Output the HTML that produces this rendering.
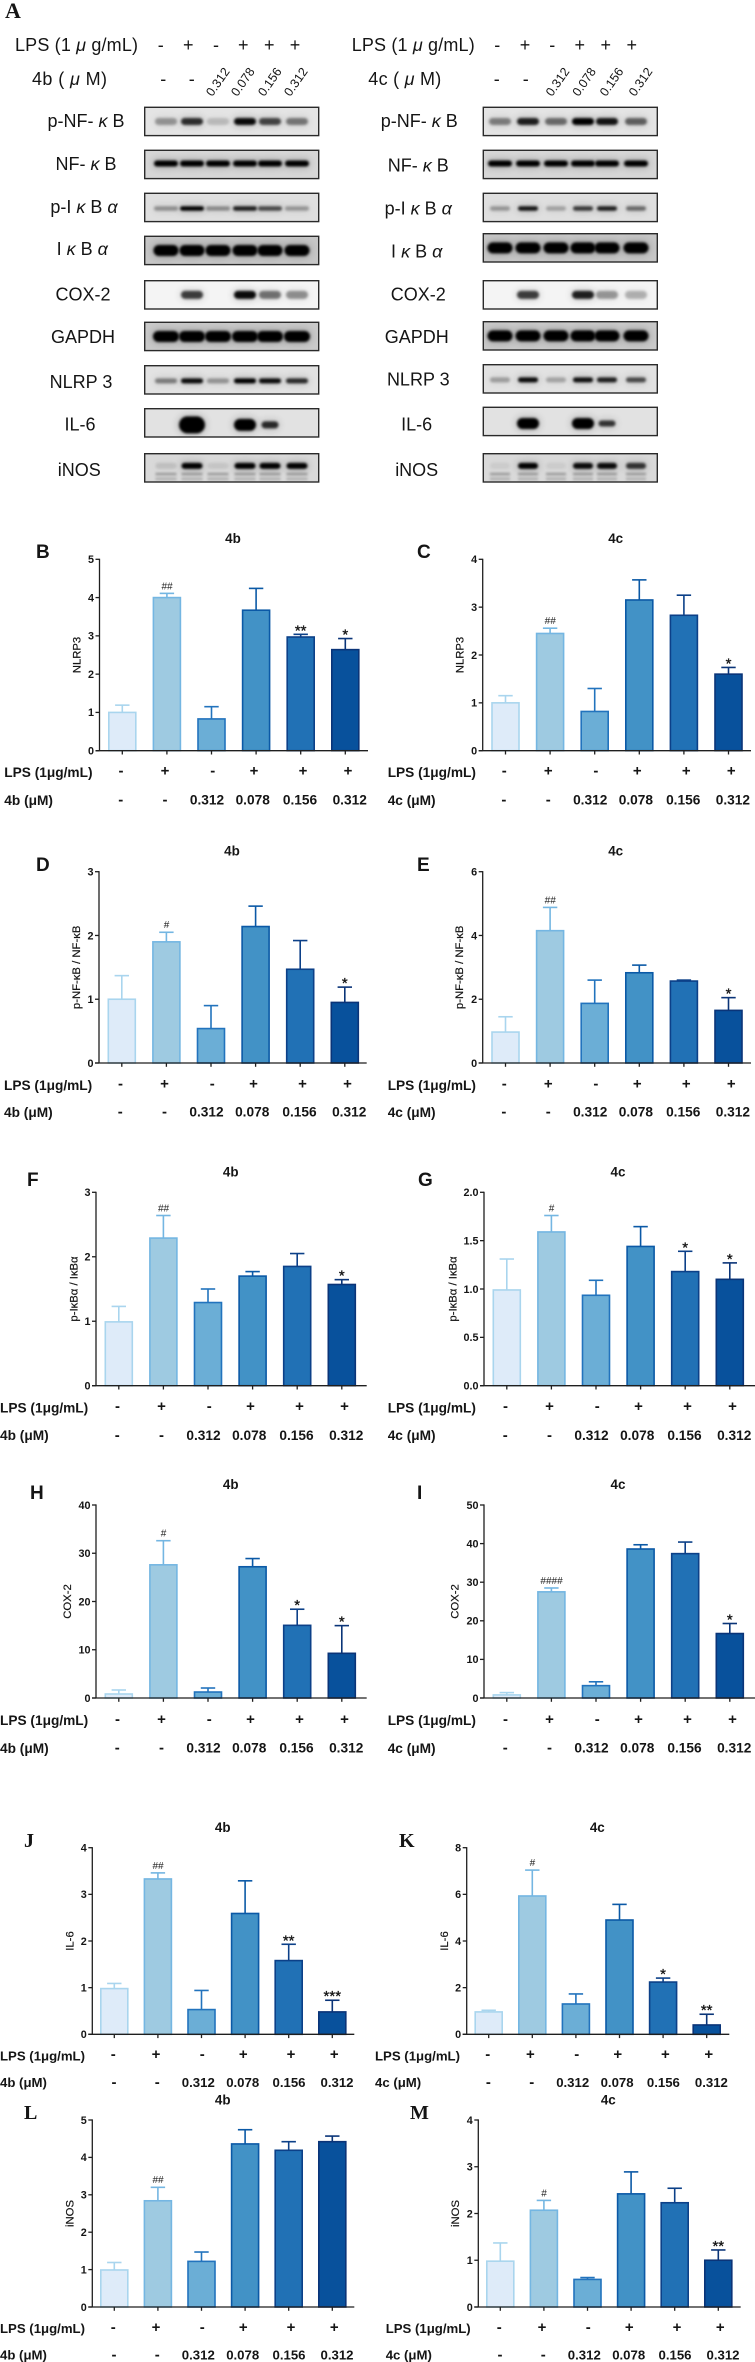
<!DOCTYPE html>
<html lang="en">
<head>
<meta charset="utf-8">
<title>Western blots and quantification of 4b and 4c</title>
<style>
html,body{margin:0;padding:0;background:#fff;width:755px;height:2362px;overflow:hidden}
svg{display:block}
text{font-family:"Liberation Sans",sans-serif;fill:#151515}
.wb{font-size:18px}
.gk{font-style:italic}
.dose{font-size:12.5px;text-anchor:middle}
.mark{font-size:18px;text-anchor:middle}
#charts,#blots{filter:blur(.3px)}
</style>
</head>
<body>
<svg id="fig" xmlns="http://www.w3.org/2000/svg" width="755" height="2362" viewBox="0 0 755 2362">
<defs>
<filter id="bandBlur" x="-30%" y="-80%" width="160%" height="260%"><feGaussianBlur stdDeviation="1.3"/></filter>
<filter id="haloBlur" x="-50%" y="-200%" width="200%" height="500%"><feGaussianBlur stdDeviation="4"/></filter>
</defs>
<rect x="0" y="0" width="755" height="2362" fill="#fff"/>
<g id="blotSection">
<text x="5" y="18" style="font-family:'Liberation Serif',serif;font-weight:bold;font-size:22px">A</text>

<text class="wb" x="15" y="51" textLength="123">LPS (1 <tspan class="gk">μ</tspan> g/mL)</text>
<text class="wb" x="32" y="85" textLength="75">4b ( <tspan class="gk">μ</tspan> M)</text>
<text class="mark" x="160.7" y="51">-</text>
<text class="mark" x="188.3" y="51">+</text>
<text class="mark" x="216" y="51">-</text>
<text class="mark" x="243.3" y="51">+</text>
<text class="mark" x="269.3" y="51">+</text>
<text class="mark" x="295" y="51">+</text>
<text class="mark" x="163.3" y="85">-</text>
<text class="mark" x="191.7" y="85">-</text>
<text class="dose" transform="translate(218 82) rotate(-55)" y="4">0.312</text>
<text class="dose" transform="translate(243 82) rotate(-55)" y="4">0.078</text>
<text class="dose" transform="translate(270 82) rotate(-55)" y="4">0.156</text>
<text class="dose" transform="translate(296 82) rotate(-55)" y="4">0.312</text>

<text class="wb" x="351.7" y="51" textLength="123">LPS (1 <tspan class="gk">μ</tspan> g/mL)</text>
<text class="wb" x="368.3" y="85" textLength="73">4c ( <tspan class="gk">μ</tspan> M)</text>
<text class="mark" x="497.3" y="51">-</text>
<text class="mark" x="525" y="51">+</text>
<text class="mark" x="552.3" y="51">-</text>
<text class="mark" x="579.7" y="51">+</text>
<text class="mark" x="605.7" y="51">+</text>
<text class="mark" x="631.7" y="51">+</text>
<text class="mark" x="496.7" y="85">-</text>
<text class="mark" x="525.7" y="85">-</text>
<text class="dose" transform="translate(557.7 82) rotate(-55)" y="4">0.312</text>
<text class="dose" transform="translate(584.3 82) rotate(-55)" y="4">0.078</text>
<text class="dose" transform="translate(611.7 82) rotate(-55)" y="4">0.156</text>
<text class="dose" transform="translate(640.7 82) rotate(-55)" y="4">0.312</text>

<g text-anchor="middle" class="wb">
<text class="wb" x="86" y="127">p-NF- <tspan class="gk">κ</tspan> B</text>
<text class="wb" x="86" y="170">NF- <tspan class="gk">κ</tspan> B</text>
<text class="wb" x="84" y="213">p-I <tspan class="gk">κ</tspan> B <tspan class="gk">α</tspan></text>
<text class="wb" x="82.3" y="255">I <tspan class="gk">κ</tspan> B <tspan class="gk">α</tspan></text>
<text class="wb" x="83" y="300.5">COX-2</text>
<text class="wb" x="83" y="343">GAPDH</text>
<text class="wb" x="81" y="388">NLRP 3</text>
<text class="wb" x="80" y="430.5">IL-6</text>
<text class="wb" x="79.3" y="476">iNOS</text>
<text class="wb" x="419.3" y="127">p-NF- <tspan class="gk">κ</tspan> B</text>
<text class="wb" x="418.3" y="171.5">NF- <tspan class="gk">κ</tspan> B</text>
<text class="wb" x="418.3" y="214.5">p-I <tspan class="gk">κ</tspan> B <tspan class="gk">α</tspan></text>
<text class="wb" x="416.7" y="257.5">I <tspan class="gk">κ</tspan> B <tspan class="gk">α</tspan></text>
<text class="wb" x="418.3" y="300.5">COX-2</text>
<text class="wb" x="416.7" y="343">GAPDH</text>
<text class="wb" x="418.3" y="385.5">NLRP 3</text>
<text class="wb" x="416.7" y="430.5">IL-6</text>
<text class="wb" x="416.7" y="476">iNOS</text>
</g>
<g id="blots"></g>
</g>
<g id="charts"></g>
</svg>
<script>
// ---- Shared chart categories ----
const categories = ['LPS-', 'LPS+', 'dose 0.312 only', 'LPS + 0.078', 'LPS + 0.156', 'LPS + 0.312'];
const lpsLabels = ['-', '+', '-', '+', '+', '+'];
const doseLabels = ['-', '-', '0.312', '0.078', '0.156', '0.312'];

// ---- Series values ----
const valuesB = [1.0, 4.0, 0.83, 3.67, 2.97, 2.64];
const errorsB = [1.19, 4.11, 1.15, 4.24, 3.04, 2.93];
const notesB = ['', '##', '', '', '**', '*'];
const ticksB = ['0', '1', '2', '3', '4', '5'];

const valuesC = [1.0, 2.45, 0.82, 3.15, 2.83, 1.6];
const errorsC = [1.15, 2.56, 1.3, 3.57, 3.25, 1.74];
const notesC = ['', '##', '', '', '', '*'];
const ticksC = ['0', '1', '2', '3', '4'];

const valuesD = [1.0, 1.9, 0.54, 2.14, 1.47, 0.95];
const errorsD = [1.37, 2.05, 0.9, 2.46, 1.92, 1.19];
const notesD = ['', '#', '', '', '', '*'];
const ticksD = ['0', '1', '2', '3'];

const valuesE = [0.97, 4.15, 1.87, 2.83, 2.57, 1.65];
const errorsE = [1.45, 4.88, 2.6, 3.07, 2.6, 2.05];
const notesE = ['', '##', '', '', '', '*'];
const ticksE = ['0', '2', '4', '6'];

const valuesF = [0.99, 2.29, 1.29, 1.7, 1.85, 1.57];
const errorsF = [1.23, 2.64, 1.5, 1.77, 2.05, 1.645];
const notesF = ['', '##', '', '', '', '*'];
const ticksF = ['0', '1', '2', '3'];

const valuesG = [0.99, 1.59, 0.935, 1.44, 1.18, 1.1];
const errorsG = [1.31, 1.76, 1.09, 1.645, 1.39, 1.27];
const notesG = ['', '#', '', '', '*', '*'];
const ticksG = ['0.0', '0.5', '1.0', '1.5', '2.0'];

const valuesH = [0.83, 27.6, 1.24, 27.2, 15.06, 9.26];
const errorsH = [1.66, 32.6, 2.07, 28.9, 18.4, 15.0];
const notesH = ['', '#', '', '', '*', '*'];
const ticksH = ['0', '10', '20', '30', '40'];

const valuesI = [0.8, 27.5, 3.2, 38.6, 37.4, 16.7];
const errorsI = [1.4, 28.5, 4.2, 39.7, 40.4, 19.3];
const notesI = ['', '####', '', '', '', '*'];
const ticksI = ['0', '10', '20', '30', '40', '50'];

const valuesJ = [0.98, 3.33, 0.53, 2.59, 1.58, 0.48];
const errorsJ = [1.09, 3.46, 0.94, 3.29, 1.93, 0.73];
const notesJ = ['', '##', '', '', '**', '***'];
const ticksJ = ['0', '1', '2', '3', '4'];

const valuesK = [0.96, 5.93, 1.3, 4.9, 2.24, 0.4];
const errorsK = [1.03, 7.04, 1.73, 5.57, 2.41, 0.86];
const notesK = ['', '#', '', '', '*', '**'];
const ticksK = ['0', '2', '4', '6', '8'];

const valuesL = [0.99, 2.84, 1.22, 4.36, 4.19, 4.42];
const errorsL = [1.19, 3.2, 1.47, 4.74, 4.42, 4.57];
const notesL = ['', '##', '', '', '', ''];
const ticksL = ['0', '1', '2', '3', '4', '5'];

const valuesM = [0.98, 2.07, 0.59, 2.42, 2.23, 1.0];
const errorsM = [1.37, 2.28, 0.63, 2.89, 2.54, 1.22];
const notesM = ['', '#', '', '', '', '**'];
const ticksM = ['0', '1', '2', '3', '4'];

// ---- Blot band densities (0 = no band, 1 = saturated) ----
const densityLeft = [
  [0.32, 0.78, 0.16, 0.95, 0.68, 0.45],
  [1, 1, 1, 1, 1, 1],
  [0.33, 1, 0.35, 0.85, 0.65, 0.3],
  [1, 1, 1, 1, 1, 1],
  [0, 0.72, 0, 0.95, 0.5, 0.38],
  [1, 1, 1, 1, 1, 1],
  [0.42, 0.95, 0.32, 1, 0.95, 0.8],
  [0, 1, 0, 1, 0.8, 0],
  [0.1, 1, 0.08, 1, 1, 1]
];
const densityRight = [
  [0.42, 0.85, 0.5, 1, 0.9, 0.55],
  [1, 1, 1, 1, 1, 1],
  [0.3, 0.9, 0.25, 0.72, 0.85, 0.5],
  [1, 1, 1, 1, 1, 1],
  [0, 0.72, 0, 0.85, 0.35, 0.25],
  [1, 1, 1, 1, 1, 1],
  [0.28, 0.95, 0.25, 0.92, 0.85, 0.65],
  [0, 1, 0, 1, 0.75, 0],
  [0.05, 1, 0.05, 0.95, 0.95, 0.75]
];

// ---- Layout ----
const blotRowNames = ['p-nfkb', 'nfkb', 'p-ikba', 'ikba', 'cox2', 'gapdh', 'nlrp3', 'il6', 'inos'];
const blotBackgrounds = ['#e4e4e4', '#d6d6d6', '#dfdfdf', '#c6c6c6', '#f4f4f4', '#c9c9c9', '#e2e2e2', '#e2e2e2', '#d9d9d9'];
const bandHeights = [7, 6, 4.5, 11, 8, 11, 5, 11, 6];
const bandOffsets = [0, -1, 1, 0, 0, 0, 1, 2, -2];
const bandWidthsLeft = [22, 24, 24, 25, 22, 26, 22, 22, 21];
const bandWidthsRight = [22, 24, 20, 25, 22, 25, 20, 22, 20];
const il6WidthLeft = [0, 26, 0, 22, 17, 0];
const il6HeightLeft = [0, 17, 0, 12, 7, 0];
const il6WidthRight = [0, 22, 0, 22, 17, 0];
const il6HeightRight = [0, 11, 0, 11, 6, 0];
const blotTopsLeft = [107.3, 150.3, 193.3, 236.3, 280.7, 322.3, 365.7, 408.7, 453.7];
const blotTopsRight = [107.3, 150.3, 193.3, 233.7, 280.7, 321.7, 364.7, 407.3, 453.7];
const lanesLeft = [166, 192, 218, 245, 270, 297];
const lanesRight = [500, 528, 556, 583, 607, 636];

const fillColors = ['#deebf9', '#9ecae1', '#6baed6', '#4292c6', '#2171b5', '#08519c'];
const strokeColors = ['#a9d5ee', '#74b6e2', '#2273bd', '#0b59a6', '#0c4088', '#0a3478'];

const lpsOffsets = [21.5, 65.5, 113.2, 154.5, 203.5, 248.5];
const doseOffsets = [21.2, 65.5, 107.5, 153.2, 200.5, 250.2];
const lpsOffsetsNarrow = [21, 63.7, 110, 151, 198.7, 242];
const doseOffsetsNarrow = [21.7, 65, 106, 150.4, 196.7, 244.7];

const panels = [
  {id:'b', letter:'B', lx:36, ly:558, serif:false, title:'4b', tx:233, ty:543, ax:99.5, top:559.3, bot:750.7, right:368, rowA:772, rowB:800, labelX:4.3, yTitle:'NLRP3', yOff:23, values:valuesB, errors:errorsB, notes:notesB, ticks:ticksB, drug:'4b (μM)'},
  {id:'c', letter:'C', lx:417, ly:558, serif:false, title:'4c', tx:615.7, ty:543, ax:482.7, top:559.3, bot:750.7, right:751, rowA:772, rowB:800, labelX:387.7, yTitle:'NLRP3', yOff:23, values:valuesC, errors:errorsC, notes:notesC, ticks:ticksC, drug:'4c (μM)'},
  {id:'d', letter:'D', lx:36, ly:871, serif:false, title:'4b', tx:232, ty:855.5, ax:99, top:871.7, bot:1063, right:366.7, rowA:1085, rowB:1112, labelX:4, yTitle:'p-NF-κB / NF-κB', yOff:23, values:valuesD, errors:errorsD, notes:notesD, ticks:ticksD, drug:'4b (μM)'},
  {id:'e', letter:'E', lx:417, ly:871, serif:false, title:'4c', tx:615.7, ty:855.5, ax:482.7, top:871.7, bot:1063, right:751, rowA:1085, rowB:1112, labelX:387.7, yTitle:'p-NF-κB / NF-κB', yOff:23.7, values:valuesE, errors:errorsE, notes:notesE, ticks:ticksE, drug:'4c (μM)'},
  {id:'f', letter:'F', lx:27, ly:1186, serif:false, title:'4b', tx:230.7, ty:1176.5, ax:96, top:1192.3, bot:1385.7, right:366.7, rowA:1407.7, rowB:1435.3, labelX:0, yTitle:'p-IκBα / IκBα', yOff:22.7, values:valuesF, errors:errorsF, notes:notesF, ticks:ticksF, drug:'4b (μM)'},
  {id:'g', letter:'G', lx:418, ly:1186, serif:false, title:'4c', tx:618, ty:1176.5, ax:484, top:1192.3, bot:1385.7, right:755, rowA:1407.7, rowB:1435.3, labelX:387.7, yTitle:'p-IκBα / IκBα', yOff:31.7, values:valuesG, errors:errorsG, notes:notesG, ticks:ticksG, drug:'4c (μM)'},
  {id:'h', letter:'H', lx:30, ly:1499, serif:false, title:'4b', tx:230.7, ty:1489, ax:96, top:1505, bot:1698, right:366.7, rowA:1720.3, rowB:1748, labelX:0, yTitle:'COX-2', yOff:29, values:valuesH, errors:errorsH, notes:notesH, ticks:ticksH, drug:'4b (μM)'},
  {id:'i', letter:'I', lx:417, ly:1499, serif:false, title:'4c', tx:618, ty:1489, ax:484, top:1505, bot:1698, right:755, rowA:1720.3, rowB:1748, labelX:387.7, yTitle:'COX-2', yOff:29.7, values:valuesI, errors:errorsI, notes:notesI, ticks:ticksI, drug:'4c (μM)'},
  {id:'j', letter:'J', lx:24, ly:1847, serif:true, title:'4b', tx:222.7, ty:1832, ax:92.3, top:1847.7, bot:2034.3, right:354.3, rowA:2055.7, rowB:2082.3, labelX:0, yTitle:'IL-6', yOff:23, values:valuesJ, errors:errorsJ, notes:notesJ, ticks:ticksJ, drug:'4b (μM)', narrow:true},
  {id:'k', letter:'K', lx:399, ly:1847, serif:true, title:'4c', tx:597.3, ty:1832, ax:466.7, top:1847.7, bot:2034.3, right:729.3, rowA:2055.7, rowB:2082.3, labelX:375, yTitle:'IL-6', yOff:22.7, values:valuesK, errors:errorsK, notes:notesK, ticks:ticksK, drug:'4c (μM)', narrow:true},
  {id:'l', letter:'L', lx:24, ly:2119, serif:true, title:'4b', tx:222.7, ty:2104.5, ax:92.3, top:2120, bot:2307, right:354.3, rowA:2328.3, rowB:2354.7, labelX:0, yTitle:'iNOS', yOff:23, values:valuesL, errors:errorsL, notes:notesL, ticks:ticksL, drug:'4b (μM)', narrow:true},
  {id:'m', letter:'M', lx:410, ly:2119, serif:true, title:'4c', tx:608.3, ty:2104.5, ax:478.3, top:2120, bot:2307, right:740.7, rowA:2328.3, rowB:2354.7, labelX:385.7, yTitle:'iNOS', yOff:23.3, values:valuesM, errors:errorsM, notes:notesM, ticks:ticksM, drug:'4c (μM)', narrow:true}
];

const NS = 'http://www.w3.org/2000/svg';
function mk(tag, attrs, parent, txt) {
  const n = document.createElementNS(NS, tag);
  for (const k in attrs) n.setAttribute(k, attrs[k]);
  if (txt !== undefined) n.textContent = txt;
  parent.appendChild(n);
  return n;
}

// ---- Blots ----
function drawBlots(side, x0, tops, lanes, density, widths, il6W, il6H) {
  const root = document.getElementById('blots');
  const W = 174, H = 28.3;
  tops.forEach(function (top, r) {
    const g = mk('g', {}, root);
    
    
    const clip = mk('clipPath', {id: 'clip-' + side + r}, g);
    mk('rect', {x: x0, y: top, width: W, height: H}, clip);
    const inner = mk('g', {'clip-path': 'url(#clip-' + side + r + ')'}, g);
    mk('rect', {x: x0, y: top, width: W, height: H, fill: blotBackgrounds[r]}, inner);
    const cy = top + H / 2 + bandOffsets[r];
    density[r].forEach(function (d, i) {
      if (d <= 0) return;
      const isIl6 = blotRowNames[r] === 'il6';
      const w = isIl6 ? il6W[i] : widths[r];
      const h = isIl6 ? il6H[i] : bandHeights[r];
      mk('rect', {x: lanes[i] - w / 2 - 1, y: cy - h / 2 - 1, width: w + 2, height: h + 2, rx: h / 2 + 1, fill: '#000', opacity: d * 0.22, filter: 'url(#haloBlur)'}, inner);
      mk('rect', {x: lanes[i] - w / 2, y: cy - h / 2, width: w, height: h, rx: h / 2, fill: '#000', opacity: d, filter: 'url(#bandBlur)'}, inner);
      if (blotRowNames[r] === 'inos') {
        mk('rect', {x: lanes[i] - w / 2, y: cy + 7, width: w, height: 2.5, fill: '#000', opacity: 0.3, filter: 'url(#bandBlur)'}, inner);
        mk('rect', {x: lanes[i] - w / 2, y: cy + 12, width: w, height: 2, fill: '#000', opacity: 0.25, filter: 'url(#bandBlur)'}, inner);
      }
    });
    mk('rect', {x: x0, y: top, width: W, height: H, fill: 'none', stroke: '#2a2a2a', 'stroke-width': 1.4}, g);
  });
}
drawBlots('4b', 144.7, blotTopsLeft, lanesLeft, densityLeft, bandWidthsLeft, il6WidthLeft, il6HeightLeft);
drawBlots('4c', 483.3, blotTopsRight, lanesRight, densityRight, bandWidthsRight, il6WidthRight, il6HeightRight);

// ---- Charts ----
const AXIS = '#1f1f1f';
const BAR_W = 27;
function xBar(p, i) {
  const first = p.narrow ? 22 : 22.8;
  const step = p.narrow ? 43.6 : 44.6;
  return p.ax + first + step * i;
}
function yScale(p, v) {
  const max = parseFloat(p.ticks[p.ticks.length - 1]);
  return p.bot - (v / max) * (p.bot - p.top);
}

panels.forEach(function (p) {
  const root = document.getElementById('charts');
  const g = mk('g', {}, root);
  
  

  const letter = mk('text', {x: p.lx, y: p.ly, style: p.serif ? "font-family:'Liberation Serif',serif;font-weight:bold;font-size:20px" : 'font-weight:bold;font-size:19px'}, g, p.letter);
  
  

  const title = mk('text', {x: p.tx, y: p.ty, 'text-anchor': 'middle', style: 'font-weight:bold;font-size:13.4px'}, g, p.title);
  
  

  const ymid = (p.top + p.bot) / 2;
  const yt = mk('text', {transform: 'translate(' + (p.ax - p.yOff + 4) + ' ' + ymid + ') rotate(-90)', 'text-anchor': 'middle', style: 'font-size:11.3px;stroke:#151515;stroke-width:.2'}, g, p.yTitle);
  
  

  // bars with error bars and significance notes
  p.values.forEach(function (v, i) {
    const cx = xBar(p, i);
    const bg = mk('g', {}, g);
    
    

    const yErr = yScale(p, p.errors[i]);
    const yVal = yScale(p, v);
    const stem = mk('line', {x1: cx, x2: cx, y1: yVal, y2: yErr, stroke: strokeColors[i], 'stroke-width': 1.6}, bg);
    
    
    const cap = mk('line', {x1: cx - 7.2, x2: cx + 7.2, y1: yErr, y2: yErr, stroke: strokeColors[i], 'stroke-width': 1.6}, bg);
    
    

    const bar = mk('rect', {x: cx - BAR_W / 2, y: yVal, width: BAR_W, height: p.bot - yVal, fill: fillColors[i], stroke: strokeColors[i], 'stroke-width': 1.6}, bg);
    
    
    const tipBar = mk('title', {}, bar, categories[i]);
    
    

    const note = p.notes[i];
    if (note) {
      const isHash = note.charAt(0) === '#';
      const cy = yErr - 7.5;
      const t = mk('text', {x: cx, y: isHash ? cy + 3.4 : cy + 8.5, 'text-anchor': 'middle', style: isHash ? 'font-size:10px;font-style:italic;fill:#222' : 'font-size:15px;font-weight:normal;stroke:#151515;stroke-width:.3'}, bg, note);
      
      
    }

    const tick = mk('line', {x1: cx, x2: cx, y1: p.bot, y2: p.bot + 3.8, stroke: AXIS, 'stroke-width': 1.3}, g);
    
    
  });

  // axes
  const yAxis = mk('line', {x1: p.ax, x2: p.ax, y1: p.top - 0.6, y2: p.bot, stroke: AXIS, 'stroke-width': 1.3}, g);
  
  
  const xAxis = mk('line', {x1: p.ax - 4, x2: p.right, y1: p.bot, y2: p.bot, stroke: AXIS, 'stroke-width': 1.3}, g);
  
  

  p.ticks.forEach(function (lab) {
    const y = yScale(p, parseFloat(lab));
    const tk = mk('line', {x1: p.ax - 4, x2: p.ax, y1: y, y2: y, stroke: AXIS, 'stroke-width': 1.3}, g);
    
    
    const tl = mk('text', {x: p.ax - 5.5, y: y + 3.8, 'text-anchor': 'end', style: 'font-weight:bold;font-size:10.8px'}, g, lab);
    
    
  });

  // treatment rows
  const rowStyle = p.narrow ? 'font-weight:bold;font-size:13.2px' : 'font-weight:bold;font-size:13.7px';
  const lpsLabel = mk('text', {x: p.labelX, y: p.rowA + 4.8, style: rowStyle}, g, 'LPS (1μg/mL)');
  
  
  const doseLabel = mk('text', {x: p.labelX, y: p.rowB + 4.8, style: rowStyle}, g, p.drug);
  
  

  const lo = p.narrow ? lpsOffsetsNarrow : lpsOffsets;
  const dO = p.narrow ? doseOffsetsNarrow : doseOffsets;
  lpsLabels.forEach(function (m, i) {
    const t = mk('text', {x: p.ax + lo[i], y: p.rowA + 3.5, 'text-anchor': 'middle', style: 'font-weight:bold;font-size:15px'}, g, m);
    
    
  });
  doseLabels.forEach(function (m, i) {
    const t = mk('text', {x: p.ax + dO[i], y: p.rowB + 4.6, 'text-anchor': 'middle', style: m === '-' ? 'font-weight:bold;font-size:15px' : rowStyle}, g, m);
    
    
  });
});
</script>
</body>
</html>
